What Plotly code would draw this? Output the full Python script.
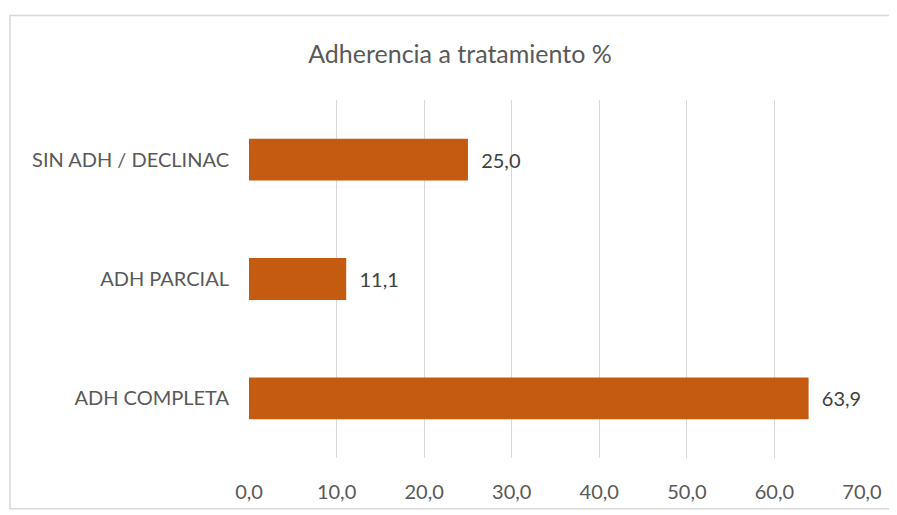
import plotly.graph_objects as go

categories = ["ADH COMPLETA", "ADH PARCIAL", "SIN ADH / DECLINAC"]
values = [63.9, 11.1, 25.0]
x_ticks = [0, 10, 20, 30, 40, 50, 60, 70]
x_tick_labels = ["0,0", "10,0", "20,0", "30,0", "40,0", "50,0", "60,0", "70,0"]
title_text = "Adherencia a tratamiento %"

FONT = "Lato, Calibri, Carlito, sans-serif"

# figure is placed at (8, 8) by the default body margin
W, H = 889, 507
L, R, T, B = 241, 35, 92, 55
PW, PH = W - L - R, H - T - B

fig = go.Figure(
    go.Bar(
        y=categories,
        x=values,
        orientation="h",
        marker=dict(color="#C55A11", line=dict(width=0)),
        width=0.35,
        text=["\u00a0\u00a0" + f"{v:.1f}".replace(".", ",") for v in values],
        textposition="outside",
        textfont=dict(family=FONT, size=20, color="#404040"),
        cliponaxis=False,
    )
)

fig.update_layout(
    width=W,
    height=H,
    paper_bgcolor="white",
    plot_bgcolor="white",
    margin=dict(l=L, r=R, t=T, b=B),
    showlegend=False,
    title=dict(
        text=title_text,
        x=452 / W,
        xanchor="center",
        y=1 - 46 / H,
        yanchor="middle",
        font=dict(family=FONT, size=25, color="#595959"),
    ),
    xaxis=dict(
        range=[0, 70],
        tickvals=x_ticks,
        ticktext=x_tick_labels,
        showgrid=True,
        gridcolor="#D9D9D9",
        gridwidth=1,
        zeroline=False,
        showline=False,
        ticks="",
        ticklabelstandoff=20,
        tickfont=dict(family=FONT, size=20, color="#595959"),
    ),
    yaxis=dict(
        range=[-0.5, 2.5],
        showgrid=False,
        zeroline=False,
        showline=False,
        ticks="",
        ticklabelstandoff=19,
        tickfont=dict(family=FONT, size=20, color="#595959"),
    ),
    shapes=[
        dict(
            type="rect",
            xref="paper",
            yref="paper",
            x0=(2 - L) / PW,
            x1=(900 - L) / PW,
            y0=(PH - (503 - T)) / PH,
            y1=(PH - (7 - T)) / PH,
            line=dict(color="#D9D9D9", width=1.5),
            fillcolor="rgba(0,0,0,0)",
            layer="below",
        )
    ],
)

fig.write_html("out.html")
